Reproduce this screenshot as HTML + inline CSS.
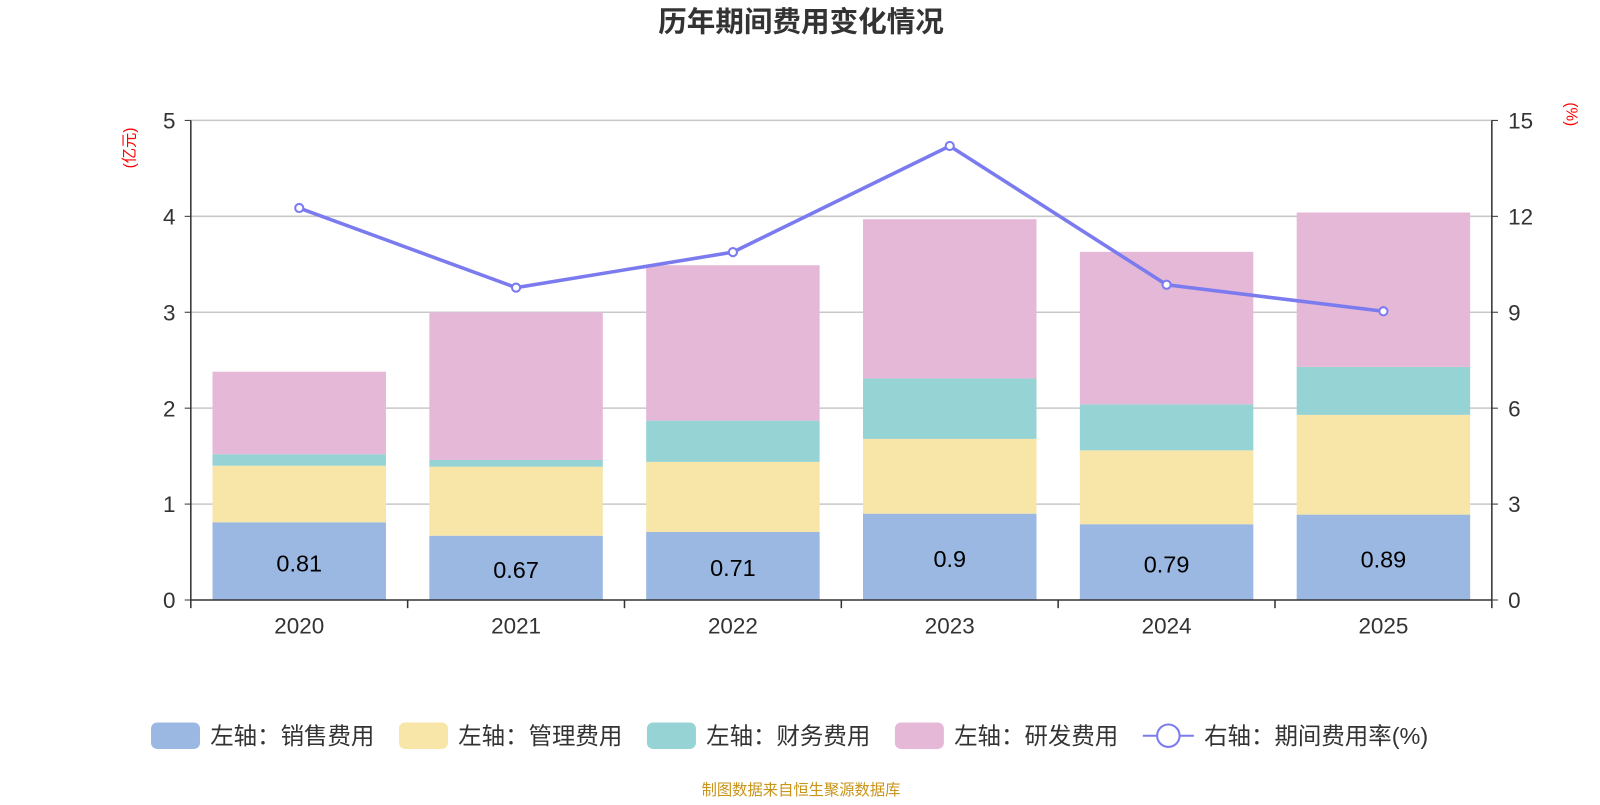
<!DOCTYPE html>
<html><head><meta charset="utf-8">
<style>
body{margin:0;background:#fff;width:1600px;height:800px;overflow:hidden;font-family:"Liberation Sans","Noto Sans CJK SC",sans-serif;}
svg text{font-family:"Liberation Sans","Noto Sans CJK SC",sans-serif;}
</style></head>
<body>
<svg id="chart" width="1600" height="800" viewBox="0 0 1568 784">
<text x="785" y="31" text-anchor="middle" font-size="28" font-weight="bold" fill="#333">历年期间费用变化情况</text>
<text transform="translate(132,145) rotate(-90)" text-anchor="middle" font-size="15" fill="#f00">(亿元)</text>
<text transform="translate(1535,112) rotate(90)" text-anchor="middle" font-size="15" fill="#f00">(%)</text>
<g id="grid"></g><g id="bars"></g><g id="axes"></g><g id="line"></g><g id="legend"></g>
<text x="785" y="779" text-anchor="middle" font-size="15" fill="#c8941a">制图数据来自恒生聚源数据库</text>
</svg>
<script>
const categories=["2020","2021","2022","2023","2024","2025"];
const sales=[0.81,0.67,0.71,0.9,0.79,0.89];
const mgmt=[0.59,0.72,0.73,0.78,0.77,1.04];
const finance=[0.12,0.07,0.43,0.63,0.48,0.50];
const rd=[0.86,1.54,1.62,1.66,1.59,1.61];
const rate=[12.26,9.77,10.88,14.2,9.86,9.03];
const leftTicks=[0,1,2,3,4,5];
const rightTicks=[0,3,6,9,12,15];
const seriesNames=["左轴：销售费用","左轴：管理费用","左轴：财务费用","左轴：研发费用"];
const colors=["#9bb8e2","#f7e6a8","#96d3d4","#e6b8d8"];
const NS="http://www.w3.org/2000/svg";
const x0=187,x1=1462,yb=588,yt=118;
const band=(x1-x0)/categories.length;
const yL=v=>yb-(v/5)*(yb-yt);
const yR=v=>yb-(v/15)*(yb-yt);
const xC=i=>x0+band*(i+0.5);
function mk(tag,attrs,parent,txt){const e=document.createElementNS(NS,tag);for(const k in attrs)e.setAttribute(k,attrs[k]);if(txt!==undefined)e.textContent=txt;document.getElementById(parent).appendChild(e);return e;}
leftTicks.forEach((t,i)=>{
 if(t>0){const g=mk("line",{x1:x0,x2:x1,y1:yL(t),y2:yL(t),stroke:"#c8c8c8","stroke-width":1.5},"grid");
 
 }
 const l=mk("text",{x:172,y:yL(t)+8,"text-anchor":"end","font-size":22,fill:"#333"},"axes",t);
 
 
 const tk=mk("line",{x1:x0-6,x2:x0,y1:yL(t),y2:yL(t),stroke:"#333"},"axes");
 
 
});
rightTicks.forEach(t=>{
 const l=mk("text",{x:1478,y:yR(t)+8,"font-size":22,fill:"#333"},"axes",t);
 
 
 const tk=mk("line",{x1:x1,x2:x1+6,y1:yR(t),y2:yR(t),stroke:"#333"},"axes");
 
 
});
const series=[sales,mgmt,finance,rd];
categories.forEach((c,i)=>{
 let base=0;
 series.forEach((s,k)=>{
  const r=mk("rect",{x:xC(i)-85,y:yL(base+s[i]),width:170,height:yL(base)-yL(base+s[i]),fill:colors[k]},"bars");
  
  
  base+=s[i];
 });
 const v=mk("text",{x:xC(i),y:(yL(sales[i])+yb)/2+10,"text-anchor":"middle","font-size":23,fill:"#000"},"bars",sales[i]);
 
 
 const xl=mk("text",{x:xC(i),y:621,"text-anchor":"middle","font-size":22,fill:"#333"},"axes",c);
 
 
});
for(let i=0;i<=categories.length;i++){
 const tk=mk("line",{x1:x0+band*i,x2:x0+band*i,y1:yb,y2:yb+8,stroke:"#333","stroke-width":1.5},"axes");
 
 
}
[["x1",x0,x0,yt,yb],["x2",x1,x1,yt,yb],["xb",x0,x1,yb,yb]].forEach(a=>{
 const l=mk("line",{x1:a[1],x2:a[2],y1:a[3],y2:a[4],stroke:"#333","stroke-width":1.5},"axes");
 
 
});
const pts=rate.map((r,i)=>xC(i)+","+yR(r)).join(" ");
const pl=mk("polyline",{points:pts,fill:"none",stroke:"#7b7bf0","stroke-width":3.5},"line");


rate.forEach((r,i)=>{
 const p=mk("circle",{cx:xC(i),cy:yR(r),r:4,fill:"#fff",stroke:"#7b7bf0","stroke-width":2},"line");
 
 
});
const lx=[148,391,634,877];
seriesNames.forEach((n,k)=>{
 const r=mk("rect",{x:lx[k],y:708,width:48,height:26,rx:6,fill:colors[k]},"legend");
 
 
 const t=mk("text",{x:lx[k]+58,y:729,"font-size":23,fill:"#333"},"legend",n);
 
 
});
const ll=mk("line",{x1:1120,x2:1170,y1:721,y2:721,stroke:"#7b7bf0","stroke-width":2},"legend");


const lc=mk("circle",{cx:1145,cy:721,r:11,fill:"#fff",stroke:"#7b7bf0","stroke-width":2},"legend");


const lt=mk("text",{x:1180,y:729,"font-size":23,fill:"#333"},"legend","右轴：期间费用率(%)");


</script>
</body></html>
